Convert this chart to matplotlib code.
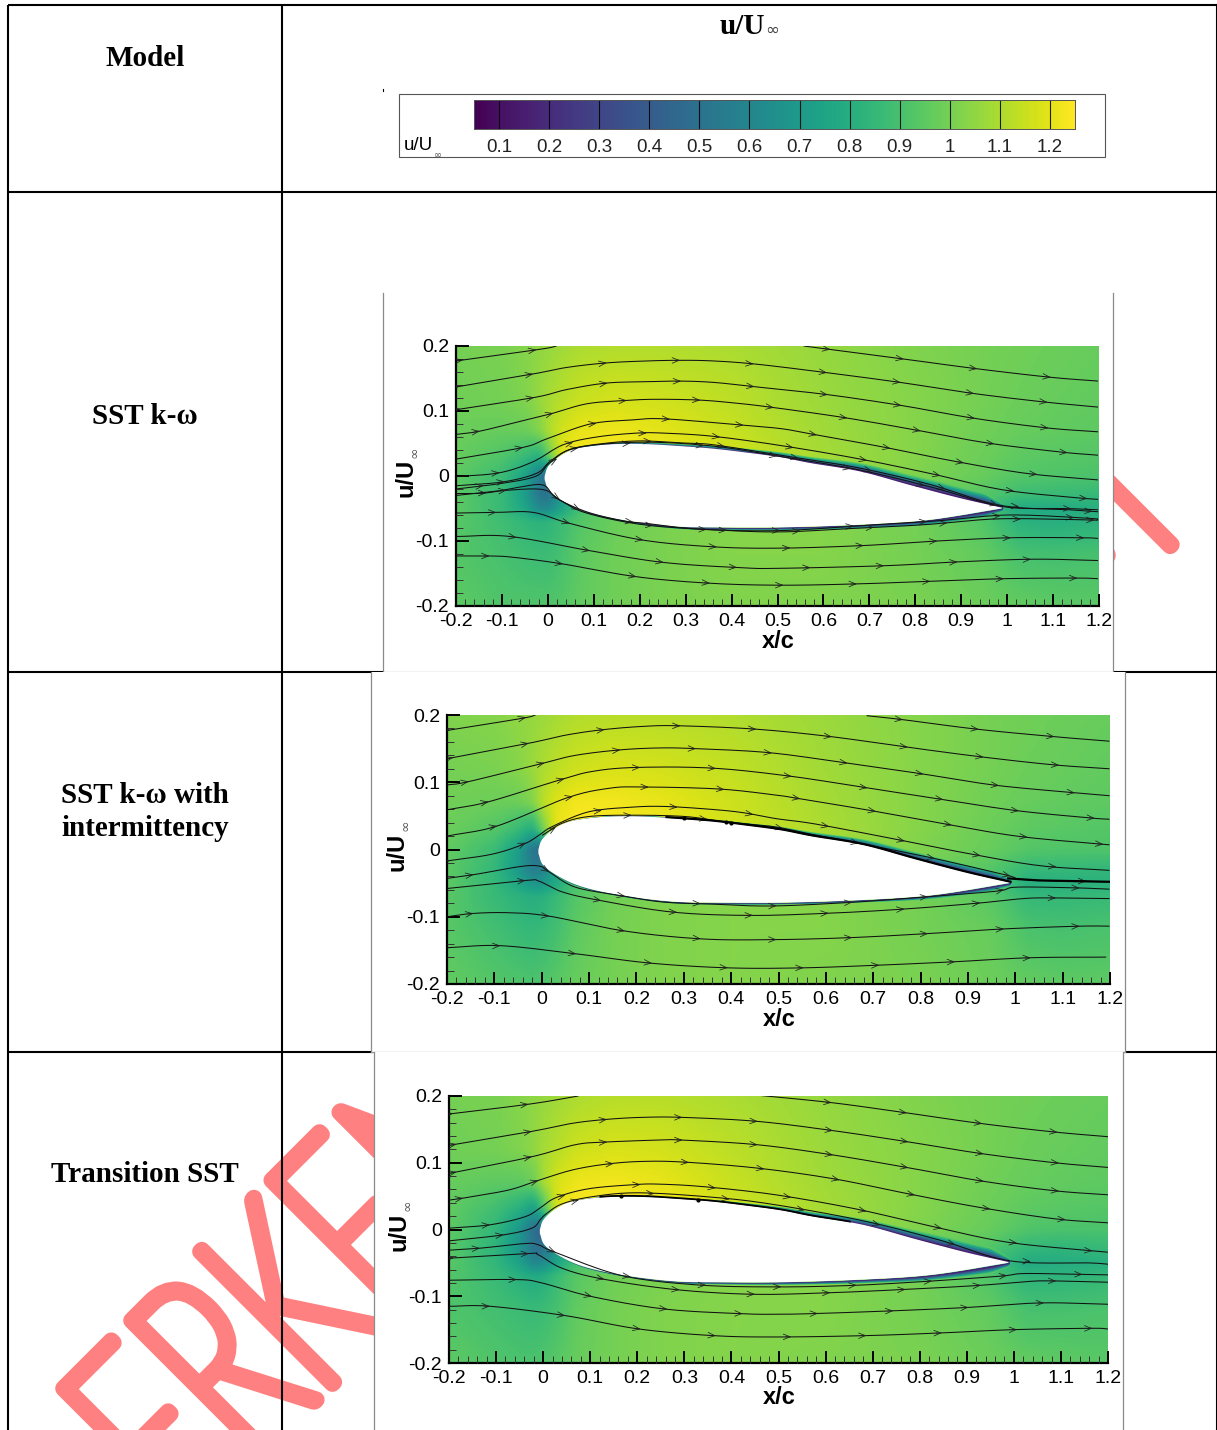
#!/usr/bin/env python

# u/U_inf fields around the airfoil for three turbulence models, in a table

import numpy as np
import matplotlib
matplotlib.use('Agg')
import matplotlib.pyplot as plt
from matplotlib.patches import Rectangle
from matplotlib.patheffects import AbstractPathEffect
from matplotlib.transforms import Affine2D
from matplotlib.ticker import MultipleLocator

W, H = 1217, 1430
PINK = '#FF8080'
SANS = 'Liberation Sans'
SERIF = 'Liberation Serif'

# colour scale
u_min, u_max = 0.05, 1.25
cbar_ticks = [0.1, 0.2, 0.3, 0.4, 0.5, 0.6, 0.7, 0.8, 0.9, 1.0, 1.1, 1.2]
cbar_labels = ['0.1', '0.2', '0.3', '0.4', '0.5', '0.6', '0.7', '0.8', '0.9', '1', '1.1', '1.2']

x_ticks = [-0.2, -0.1, 0, 0.1, 0.2, 0.3, 0.4, 0.5, 0.6, 0.7, 0.8, 0.9, 1.0, 1.1, 1.2]
x_labels = ['-0.2', '-0.1', '0', '0.1', '0.2', '0.3', '0.4', '0.5', '0.6', '0.7', '0.8', '0.9', '1', '1.1', '1.2']
y_ticks = [-0.2, -0.1, 0, 0.1, 0.2]
y_labels = ['-0.2', '-0.1', '0', '0.1', '0.2']

# airfoil surface
upper_x = [-0.007, 0.0, 0.019, 0.048, 0.084, 0.143, 0.215, 0.288, 0.361, 0.433, 0.506, 0.571, 0.68, 0.789, 0.897, 0.99]
upper_y = [0.0, 0.014, 0.027, 0.039, 0.045, 0.049, 0.049, 0.046, 0.042, 0.036, 0.029, 0.02, 0.007, -0.014, -0.034, -0.049]
lower_x = [-0.007, 0.004, 0.041, 0.084, 0.143, 0.215, 0.288, 0.361, 0.506, 0.68, 0.825, 0.97, 0.99]
lower_y = [-0.006, -0.024, -0.042, -0.055, -0.065, -0.073, -0.078, -0.079, -0.079, -0.075, -0.068, -0.052, -0.049]

# field nodes
grid_x = [-0.2, -0.1, -0.05, -0.02, 0, 0.03, 0.07, 0.15, 0.25, 0.4, 0.6, 0.8, 0.95, 1.03, 1.1, 1.2]
grid_y = [0.2, 0.12, 0.07, 0.03, 0, -0.03, -0.05, -0.07, -0.12, -0.2]

field_sst = [
    [1.00, 1.01, 1.03, 1.05, 1.06, 1.08, 1.10, 1.11, 1.11, 1.10, 1.06, 1.02, 1.00, 0.99, 0.98, 0.97],
    [0.99, 1.00, 1.02, 1.06, 1.09, 1.12, 1.15, 1.17, 1.16, 1.13, 1.07, 1.03, 1.00, 0.98, 0.97, 0.96],
    [0.98, 0.97, 0.98, 1.02, 1.10, 1.17, 1.21, 1.22, 1.20, 1.15, 1.08, 1.03, 0.99, 0.97, 0.96, 0.95],
    [0.97, 0.92, 0.86, 0.80, 0.95, 1.21, 1.24, 1.24, 1.22, 1.17, 1.09, 1.03, 0.98, 0.95, 0.94, 0.93],
    [0.95, 0.87, 0.74, 0.55, 0.45, 0.90, 1.00, 1.10, 1.10, 1.10, 1.08, 1.02, 0.97, 0.93, 0.92, 0.91],
    [0.95, 0.86, 0.72, 0.52, 0.50, 0.70, 0.90, 1.00, 1.05, 1.05, 1.05, 1.00, 0.93, 0.87, 0.86, 0.85],
    [0.95, 0.86, 0.76, 0.62, 0.62, 0.75, 0.90, 0.98, 1.03, 1.03, 1.04, 1.00, 0.90, 0.78, 0.78, 0.80],
    [0.94, 0.88, 0.84, 0.82, 0.83, 0.87, 0.93, 0.98, 1.01, 1.03, 1.03, 1.00, 0.93, 0.82, 0.80, 0.82],
    [0.93, 0.90, 0.88, 0.87, 0.87, 0.90, 0.95, 0.99, 1.01, 1.03, 1.03, 1.00, 0.96, 0.90, 0.89, 0.90],
    [0.95, 0.92, 0.92, 0.92, 0.92, 0.93, 0.96, 0.99, 1.01, 1.02, 1.02, 1.01, 0.98, 0.96, 0.95, 0.94],
]
field_int = [
    [1.02, 1.03, 1.05, 1.06, 1.07, 1.09, 1.11, 1.12, 1.12, 1.11, 1.07, 1.03, 1.00, 0.99, 0.98, 0.97],
    [1.00, 1.01, 1.03, 1.07, 1.10, 1.13, 1.16, 1.18, 1.17, 1.14, 1.08, 1.03, 1.00, 0.98, 0.97, 0.96],
    [0.99, 0.98, 0.98, 1.02, 1.12, 1.19, 1.23, 1.23, 1.21, 1.16, 1.09, 1.03, 0.99, 0.97, 0.96, 0.95],
    [0.98, 0.93, 0.86, 0.78, 0.98, 1.22, 1.24, 1.24, 1.22, 1.17, 1.10, 1.03, 0.98, 0.95, 0.94, 0.93],
    [0.96, 0.87, 0.72, 0.52, 0.45, 0.90, 1.00, 1.10, 1.10, 1.10, 1.08, 1.02, 0.97, 0.93, 0.92, 0.92],
    [0.95, 0.85, 0.70, 0.55, 0.58, 0.75, 0.90, 1.00, 1.05, 1.05, 1.05, 1.00, 0.93, 0.85, 0.85, 0.84],
    [0.95, 0.85, 0.76, 0.67, 0.68, 0.78, 0.90, 0.98, 1.03, 1.03, 1.04, 1.00, 0.92, 0.80, 0.81, 0.82],
    [0.94, 0.86, 0.82, 0.80, 0.81, 0.86, 0.93, 0.99, 1.02, 1.03, 1.03, 1.00, 0.94, 0.85, 0.85, 0.86],
    [0.94, 0.89, 0.86, 0.85, 0.86, 0.89, 0.95, 1.00, 1.02, 1.03, 1.03, 1.00, 0.97, 0.91, 0.90, 0.91],
    [0.96, 0.93, 0.92, 0.91, 0.92, 0.94, 0.97, 1.00, 1.02, 1.03, 1.02, 1.01, 0.98, 0.96, 0.95, 0.95],
]
field_trans = [
    [1.00, 1.01, 1.03, 1.05, 1.06, 1.08, 1.10, 1.12, 1.12, 1.10, 1.06, 1.02, 1.00, 0.99, 0.98, 0.97],
    [0.99, 1.00, 1.02, 1.05, 1.09, 1.12, 1.16, 1.18, 1.17, 1.13, 1.07, 1.03, 1.00, 0.98, 0.97, 0.96],
    [0.97, 0.95, 0.95, 0.98, 1.09, 1.18, 1.22, 1.23, 1.21, 1.15, 1.08, 1.03, 0.99, 0.97, 0.96, 0.95],
    [0.96, 0.88, 0.80, 0.70, 0.90, 1.20, 1.24, 1.24, 1.22, 1.17, 1.09, 1.03, 0.98, 0.95, 0.94, 0.93],
    [0.95, 0.84, 0.68, 0.48, 0.42, 0.90, 1.00, 1.10, 1.10, 1.10, 1.08, 1.02, 0.97, 0.92, 0.91, 0.91],
    [0.94, 0.83, 0.68, 0.50, 0.50, 0.70, 0.90, 1.00, 1.05, 1.05, 1.05, 1.00, 0.92, 0.84, 0.83, 0.85],
    [0.94, 0.84, 0.74, 0.60, 0.62, 0.76, 0.90, 0.98, 1.03, 1.03, 1.04, 1.00, 0.90, 0.78, 0.79, 0.81],
    [0.93, 0.86, 0.81, 0.78, 0.80, 0.87, 0.94, 0.99, 1.01, 1.03, 1.03, 1.00, 0.92, 0.83, 0.83, 0.85],
    [0.92, 0.89, 0.87, 0.86, 0.87, 0.90, 0.96, 1.00, 1.02, 1.03, 1.03, 1.00, 0.96, 0.90, 0.90, 0.91],
    [0.95, 0.92, 0.91, 0.91, 0.92, 0.94, 0.97, 1.00, 1.02, 1.03, 1.02, 1.01, 0.98, 0.96, 0.95, 0.94],
]

# boundary layer thickness on the surface
bl_x = [0.0, 0.1, 0.3, 0.5, 0.7, 0.85, 0.95, 0.99]
bl_up_sst = [0.0, 0.002, 0.004, 0.008, 0.014, 0.018, 0.018, 0.007]
bl_lo_sst = [0.0, 0.002, 0.003, 0.004, 0.005, 0.007, 0.009, 0.004]
bl_up_int = [0.0, 0.001, 0.002, 0.005, 0.009, 0.012, 0.013, 0.006]
bl_lo_int = [0.0, 0.001, 0.002, 0.002, 0.003, 0.005, 0.007, 0.004]
bl_up_trans = [0.0, 0.001, 0.002, 0.005, 0.01, 0.016, 0.017, 0.007]
bl_lo_trans = [0.0, 0.001, 0.002, 0.003, 0.005, 0.008, 0.011, 0.005]

# streamlines: (x, y) points and x of the first arrow
lines_sst = [
    ([-0.2, -0.017, 0.019], [0.177, 0.195, 0.2], -0.185),
    ([0.557, 0.774, 0.934, 1.093, 1.198], [0.2, 0.18, 0.165, 0.152, 0.146], 0.615),
    ([-0.2, -0.032, 0.041, 0.128, 0.215, 0.288, 0.361, 0.455, 0.607, 0.767, 0.926, 1.079, 1.198],
     [0.137, 0.157, 0.167, 0.174, 0.177, 0.178, 0.177, 0.172, 0.159, 0.144, 0.127, 0.114, 0.106], -0.192),
    ([-0.2, -0.028, 0.041, 0.128, 0.215, 0.288, 0.361, 0.455, 0.611, 0.774, 0.926, 1.086, 1.198],
     [0.102, 0.121, 0.133, 0.143, 0.145, 0.146, 0.144, 0.137, 0.125, 0.108, 0.089, 0.074, 0.068], -0.19),
    ([-0.2, -0.148, -0.061, 0.008, 0.084, 0.164, 0.23, 0.324, 0.397, 0.484, 0.644, 0.799, 0.955, 1.115, 1.198],
     [0.064, 0.069, 0.084, 0.096, 0.111, 0.116, 0.118, 0.117, 0.113, 0.106, 0.09, 0.071, 0.051, 0.037, 0.032], -0.148),
    ([-0.2, -0.054, -0.003, 0.092, 0.179, 0.252, 0.412, 0.506, 0.571, 0.727, 0.883, 1.042, 1.198],
     [0.026, 0.044, 0.057, 0.08, 0.086, 0.088, 0.079, 0.073, 0.065, 0.045, 0.023, 0.004, -0.006], -0.054),
    ([-0.2, -0.105, -0.032, 0.033, 0.106, 0.193, 0.252, 0.361, 0.506, 0.673, 0.832, 0.988, 1.144, 1.198],
     [-0.001, 0.005, 0.022, 0.048, 0.06, 0.066, 0.066, 0.061, 0.047, 0.027, 0.004, -0.021, -0.033, -0.036], -0.105),
    ([-0.2, -0.097, -0.025, 0.004, 0.048, 0.121, 0.201, 0.288, 0.361, 0.506, 0.673, 0.832, 0.984, 1.137, 1.198],
     [-0.015, -0.009, 0.004, 0.022, 0.041, 0.05, 0.054, 0.051, 0.048, 0.032, 0.013, -0.013, -0.045, -0.052, -0.055], -0.094),
    ([-0.2, -0.097, -0.025, 0.004, 0.06, 0.2, 0.36, 0.506, 0.68, 0.84, 0.99, 1.13, 1.198],
     [-0.02, -0.011, 0.0, 0.02, 0.043, 0.052, 0.046, 0.03, 0.009, -0.018, -0.047, -0.05, -0.052], -0.14),
    ([-0.2, -0.134, -0.061, -0.01, 0.019, 0.084, 0.164, 0.215, 0.332, 0.506, 0.687, 0.847, 1.003, 1.177, 1.198],
     [-0.027, -0.026, -0.017, -0.014, -0.034, -0.055, -0.069, -0.073, -0.082, -0.084, -0.076, -0.069, -0.06, -0.065, -0.067], -0.134),
    ([-0.2, -0.09, -0.01, 0.026, 0.084, 0.208, 0.368, 0.506, 0.654, 0.818, 0.977, 1.137, 1.198],
     [-0.03, -0.022, -0.021, -0.037, -0.057, -0.075, -0.083, -0.086, -0.081, -0.075, -0.066, -0.067, -0.068], -0.09),
    ([-0.2, -0.112, -0.032, 0.048, 0.201, 0.361, 0.506, 0.687, 0.847, 1.006, 1.162, 1.198],
     [-0.057, -0.056, -0.056, -0.073, -0.098, -0.109, -0.111, -0.107, -0.1, -0.095, -0.095, -0.096], -0.112),
    ([-0.2, -0.083, 0.092, 0.252, 0.419, 0.506, 0.734, 0.897, 1.057, 1.198],
     [-0.093, -0.093, -0.115, -0.133, -0.141, -0.142, -0.138, -0.132, -0.128, -0.13], -0.068),
    ([-0.2, -0.127, -0.076, 0.03, 0.193, 0.353, 0.506, 0.673, 0.832, 0.992, 1.151, 1.198],
     [-0.123, -0.123, -0.125, -0.135, -0.155, -0.165, -0.168, -0.166, -0.162, -0.158, -0.157, -0.158], -0.127),
]
lines_int = [
    ([-0.2, -0.042, -0.013], [0.177, 0.195, 0.2], -0.193),
    ([0.686, 0.763, 0.918, 1.079, 1.199], [0.199, 0.193, 0.179, 0.168, 0.161], 0.763),
    ([-0.2, -0.027, 0.05, 0.127, 0.212, 0.289, 0.451, 0.609, 0.763, 0.925, 1.079, 1.199],
     [0.135, 0.158, 0.17, 0.178, 0.183, 0.184, 0.179, 0.168, 0.153, 0.138, 0.126, 0.12], -0.187),
    ([-0.2, -0.154, 0.001, 0.071, 0.163, 0.247, 0.325, 0.48, 0.64, 0.798, 0.953, 1.114, 1.199],
     [0.096, 0.101, 0.128, 0.14, 0.148, 0.151, 0.15, 0.144, 0.129, 0.113, 0.096, 0.085, 0.08], -0.154),
    ([-0.2, -0.112, 0.036, 0.106, 0.198, 0.36, 0.525, 0.683, 0.841, 1.0, 1.157, 1.199],
     [0.059, 0.071, 0.103, 0.116, 0.122, 0.121, 0.109, 0.092, 0.075, 0.058, 0.047, 0.045], -0.112),
    ([-0.2, -0.094, 0.054, 0.142, 0.212, 0.374, 0.494, 0.532, 0.686, 0.844, 1.002, 1.164, 1.199],
     [0.02, 0.035, 0.077, 0.091, 0.093, 0.09, 0.081, 0.077, 0.059, 0.039, 0.02, 0.009, 0.007], -0.094),
    ([-0.2, -0.105, -0.038, -0.006, 0.022, 0.099, 0.191, 0.261, 0.353, 0.423, 0.494, 0.577, 0.735, 0.893, 1.051, 1.199],
     [-0.017, -0.007, 0.008, 0.021, 0.034, 0.056, 0.063, 0.064, 0.06, 0.055, 0.046, 0.038, 0.017, -0.005, -0.024, -0.031], -0.193),
    ([0.001, 0.043, 0.099, 0.191, 0.304, 0.388, 0.489, 0.574, 0.665, 0.827, 0.981, 1.023, 1.199],
     [0.021, 0.039, 0.049, 0.051, 0.049, 0.041, 0.034, 0.022, 0.01, -0.013, -0.038, -0.045, -0.048], 0.03),
    ([-0.2, -0.14, -0.042, -0.003, 0.015, 0.071, 0.163, 0.254, 0.353, 0.482, 0.644, 0.802, 0.96, 1.002, 1.125, 1.199],
     [-0.043, -0.037, -0.025, -0.025, -0.033, -0.056, -0.068, -0.078, -0.081, -0.084, -0.079, -0.071, -0.062, -0.056, -0.057, -0.059], -0.144),
    ([-0.2, -0.034, -0.006, 0.043, 0.117, 0.275, 0.437, 0.598, 0.756, 0.918, 1.016, 1.076, 1.199],
     [-0.058, -0.046, -0.047, -0.063, -0.075, -0.093, -0.098, -0.095, -0.089, -0.08, -0.073, -0.072, -0.073], -0.034),
    ([-0.2, -0.144, -0.07, 0.015, 0.173, 0.339, 0.493, 0.654, 0.816, 0.978, 1.136, 1.199],
     [-0.1, -0.095, -0.094, -0.099, -0.121, -0.133, -0.134, -0.131, -0.125, -0.118, -0.114, -0.114], -0.144),
    ([-0.2, -0.087, 0.071, 0.23, 0.395, 0.549, 0.711, 0.869, 1.03, 1.192],
     [-0.146, -0.143, -0.155, -0.169, -0.176, -0.176, -0.172, -0.167, -0.161, -0.16], -0.087),
]
lines_trans = [
    ([-0.2, -0.028, 0.075], [0.173, 0.188, 0.2], -0.191),
    ([0.444, 0.613, 0.769, 0.928, 1.087, 1.2], [0.202, 0.19, 0.175, 0.159, 0.146, 0.139], 0.613),
    ([-0.2, -0.024, 0.061, 0.135, 0.21, 0.295, 0.455, 0.617, 0.769, 0.928, 1.087, 1.2],
     [0.126, 0.147, 0.159, 0.165, 0.168, 0.168, 0.162, 0.148, 0.132, 0.114, 0.1, 0.093], -0.184),
    ([-0.2, -0.024, 0.068, 0.132, 0.245, 0.295, 0.455, 0.613, 0.772, 0.928, 1.087, 1.2],
     [0.084, 0.109, 0.127, 0.131, 0.134, 0.134, 0.127, 0.112, 0.093, 0.073, 0.058, 0.052], -0.184),
    ([-0.2, -0.17, -0.074, -0.017, 0.061, 0.135, 0.21, 0.299, 0.455, 0.617, 0.772, 0.928, 1.087, 1.2],
     [0.044, 0.047, 0.059, 0.072, 0.089, 0.098, 0.102, 0.101, 0.092, 0.076, 0.054, 0.033, 0.016, 0.01], -0.17),
    ([-0.2, -0.113, -0.039, -0.007, 0.028, 0.096, 0.189, 0.245, 0.344, 0.494, 0.663, 0.818, 0.977, 1.133, 1.2],
     [0.002, 0.007, 0.019, 0.032, 0.048, 0.061, 0.067, 0.068, 0.064, 0.052, 0.031, 0.006, -0.018, -0.03, -0.034], -0.113),
    ([-0.2, -0.084, -0.024, -0.007, 0.004, 0.039, 0.103, 0.203, 0.366, 0.494, 0.68, 0.843, 0.992, 1.158, 1.2],
     [-0.017, -0.008, 0.002, 0.014, 0.022, 0.038, 0.049, 0.055, 0.048, 0.037, 0.013, -0.016, -0.047, -0.05, -0.052], -0.084),
    ([-0.2, -0.134, -0.038, -0.01, 0.025, 0.167, 0.327, 0.487, 0.649, 0.808, 0.97, 1.02, 1.129, 1.2],
     [-0.031, -0.028, -0.021, -0.023, -0.034, -0.069, -0.083, -0.086, -0.084, -0.078, -0.07, -0.066, -0.067, -0.068], -0.134),
    ([-0.2, -0.031, -0.01, 0.04, 0.125, 0.281, 0.444, 0.599, 0.762, 0.921, 1.027, 1.08, 1.2],
     [-0.043, -0.036, -0.038, -0.058, -0.074, -0.09, -0.097, -0.095, -0.09, -0.084, -0.078, -0.077, -0.079], -0.19),
    ([-0.2, -0.056, -0.003, 0.1, 0.256, 0.416, 0.494, 0.574, 0.737, 0.896, 1.055, 1.2],
     [-0.076, -0.075, -0.08, -0.1, -0.119, -0.126, -0.127, -0.126, -0.122, -0.117, -0.11, -0.112], -0.056),
    ([-0.2, -0.113, 0.047, 0.203, 0.362, 0.494, 0.684, 0.843, 1.002, 1.165, 1.2],
     [-0.115, -0.115, -0.129, -0.149, -0.159, -0.161, -0.159, -0.155, -0.15, -0.148, -0.149], -0.113),
]

# thick black traces: stretch of upper surface, wake and blobs
trace_int = (0.26, 0.99)
wake_int_x = [0.985, 1.05, 1.199]
wake_int_y = [-0.043, -0.046, -0.048]
blobs_int = [0.3, 0.39, 0.4]
trace_trans = (0.12, 0.66)
wake_trans_x = []
wake_trans_y = []
blobs_trans = [0.165, 0.33]

row_labels = ['Model', 'SST k-ω', 'SST k-ω with\nintermittency', 'Transition SST']

ARROW_STEP = 0.16


class Squash(AbstractPathEffect):
    # narrows the glyphs of a text along its baseline, the watermark is very condensed
    def __init__(self, sx, lw):
        self.sx = sx
        self.lw = lw

    def draw_path(self, renderer, gc, tpath, affine, rgbFace=None):
        gc0 = renderer.new_gc()
        gc0.copy_properties(gc)
        gc0.set_linewidth(self.lw)
        gc0.set_foreground(rgbFace)
        gc0.set_joinstyle('round')
        renderer.draw_path(gc0, tpath, Affine2D().scale(self.sx, 1) + affine, rgbFace)
        gc0.restore()


def px_axes(fig, x0, y0, x1, y1):
    return fig.add_axes([x0 / W, 1 - y1 / H, (x1 - x0) / W, (y1 - y0) / H])


def smooth_curve(xs, ys, n=12):
    # catmull-rom through the read points, only so the drawn curve has no corners
    p = np.column_stack([xs, ys])
    if len(p) < 3:
        return p[:, 0], p[:, 1]
    p = np.vstack([2 * p[0] - p[1], p, 2 * p[-1] - p[-2]])
    out = []
    for i in range(1, len(p) - 2):
        for t in np.linspace(0, 1, n, endpoint=False):
            out.append(0.5 * (2 * p[i] + (p[i + 1] - p[i - 1]) * t
                              + (2 * p[i - 1] - 5 * p[i] + 4 * p[i + 1] - p[i + 2]) * t ** 2
                              + (3 * p[i] - p[i - 1] - 3 * p[i + 1] + p[i + 2]) * t ** 3))
    out.append(p[-2])
    out = np.array(out)
    return out[:, 0], out[:, 1]


def fine_field(field):
    # resample the read nodes on a fine regular grid and soften the node columns
    fx = np.linspace(-0.2, 1.2, 561)
    fy = np.linspace(0.2, -0.2, 321)
    z = np.array(field, dtype=float)
    gy = np.array(grid_y)
    rows = np.array([np.interp(fx, grid_x, r) for r in z])
    fine = np.array([np.interp(-fy, -gy, rows[:, j]) for j in range(rows.shape[1])]).T
    kx = np.hanning(17)
    ky = np.hanning(13)
    kx, ky = kx / kx.sum(), ky / ky.sum()
    fine = np.pad(fine, ((8, 8), (10, 10)), mode='edge')
    fine = np.apply_along_axis(lambda v: np.convolve(v, kx, mode='same'), 1, fine)
    fine = np.apply_along_axis(lambda v: np.convolve(v, ky, mode='same'), 0, fine)
    return fine[8:-8, 10:-10]


def draw_panel(fig, box, field, bl_up, bl_lo, lines, trace=None, wake=None, blobs=(), trace_lw=1.6):
    ax = px_axes(fig, *box)
    cmap = plt.get_cmap('viridis')
    norm = plt.Normalize(u_min, u_max)
    ax.imshow(fine_field(field), extent=[-0.2, 1.2, -0.2, 0.2], aspect='auto', cmap=cmap, norm=norm,
              interpolation='bilinear', zorder=0)

    ux, uy = smooth_curve(upper_x, upper_y)
    lx, ly = smooth_curve(lower_x, lower_y)

    # boundary layer, outer band first
    tu = np.interp(ux, bl_x, bl_up)
    tl = np.interp(lx, bl_x, bl_lo)
    bands = [(1.0, 0.95), (0.88, 0.85), (0.75, 0.72), (0.6, 0.58), (0.45, 0.42), (0.3, 0.28), (0.16, 0.14)]
    for frac, val in bands:
        ax.fill_between(ux, uy, uy + tu * frac, color=cmap(norm(val)), lw=0, zorder=1)
        ax.fill_between(lx, ly, ly - tl * frac, color=cmap(norm(val)), lw=0, zorder=1)

    ax.fill(np.r_[ux, lx[::-1]], np.r_[uy, ly[::-1]], color='white', lw=0, zorder=2)

    for xs, ys, first in lines:
        sx, sy = smooth_curve(xs, ys)
        ax.plot(sx, sy, color='#111111', lw=0.75, zorder=3, solid_capstyle='butt')
        ax0 = first
        while ax0 < xs[-1] - 0.005:
            if ax0 > xs[0]:
                an = ax.annotate('', xy=(ax0, np.interp(ax0, xs, ys)),
                                 xytext=(ax0 - 0.012, np.interp(ax0 - 0.012, xs, ys)),
                                 arrowprops=dict(arrowstyle='->,head_length=0.5,head_width=0.2',
                                                 lw=0.55, color='#222222', shrinkA=0, shrinkB=0,
                                                 mutation_scale=10),
                                 zorder=3)
                an.arrow_patch.set_clip_path(ax.patch)
            ax0 = ax0 + ARROW_STEP

    if trace is not None:
        keep = (ux >= trace[0]) & (ux <= trace[1])
        ax.plot(ux[keep], uy[keep] + 0.001, color='black', lw=trace_lw, zorder=3)
    if wake is not None and len(wake[0]) > 0:
        ax.plot(wake[0], wake[1], color='black', lw=trace_lw, zorder=3)
    if len(blobs) > 0:
        ax.plot(blobs, np.interp(blobs, ux, uy) + 0.001, 'o', color='black', ms=3, mew=0, zorder=3)

    ax.set_xlim(-0.2, 1.2)
    ax.set_ylim(-0.2, 0.2)
    ax.patch.set_alpha(0)
    ax.set_axisbelow(False)
    ax.spines['top'].set_visible(False)
    ax.spines['right'].set_visible(False)
    ax.spines['left'].set_linewidth(1.6)
    ax.spines['bottom'].set_linewidth(1.6)
    ax.set_xticks(x_ticks, x_labels, fontsize=14, fontfamily=SANS)
    ax.set_yticks(y_ticks, y_labels, fontsize=14, fontfamily=SANS)
    ax.xaxis.set_minor_locator(MultipleLocator(0.02))
    ax.yaxis.set_minor_locator(MultipleLocator(0.02))
    ax.tick_params(which='major', direction='in', length=9, width=1.4, pad=5, color='black')
    ax.tick_params(which='minor', direction='in', length=5, width=0.7, color='#333333')
    for t in ax.get_yticklabels():
        t.set_verticalalignment('center_baseline')
    return ax


def axis_titles(over, box):
    x0, y0, x1, y1 = box
    over.text((x0 + x1) / 2 + 1, y1 + 35, 'x/c', ha='center', va='center', fontsize=17,
              fontweight='bold', fontfamily=SANS, zorder=6)
    cy = (y0 + y1) / 2
    over.text(x0 - 50, cy + 2, 'u/U', rotation=90, ha='center', va='center', fontsize=17,
              fontweight='bold', fontfamily=SANS, zorder=6)
    over.text(x0 - 42, cy - 24, '∞', rotation=90, ha='center', va='center', fontsize=10,
              color='#555555', fontfamily='DejaVu Sans', zorder=6)


fig = plt.figure(figsize=(W / 100, H / 100), dpi=100, facecolor='white')

# page layer in pixel coordinates
over = fig.add_axes([0, 0, 1, 1])
over.set_xlim(0, W)
over.set_ylim(H, 0)
over.axis('off')

# watermark goes under the table lines and the pasted images
over.text(182, 1534, 'ERKEN GÖRÜNÜM', rotation=45, rotation_mode='anchor', ha='left', va='baseline',
          fontsize=192, color=PINK, fontfamily='Lato', fontweight='light', zorder=1,
          path_effects=[Squash(0.619, 12)])

# table lines
for x in [8, 282]:
    over.plot([x, x], [5, H], color='black', lw=1.5, zorder=2, solid_capstyle='butt')
over.plot([W - 0.5, W - 0.5], [5, H], color='black', lw=1.5, zorder=2)
for y in [5, 192, 672, 1052]:
    over.plot([8, W], [y, y], color='black', lw=1.5, zorder=2, solid_capstyle='butt')

# pasted images with thin grey side borders
for x0, y0, x1, y1 in [(383, 293, 1113, 672), (371, 672, 1125, 1052), (374, 1052, 1123, H)]:
    over.add_patch(Rectangle((x0, y0), x1 - x0, y1 - y0, fc='white', ec='none', zorder=3))
    over.plot([x0, x0], [y0, y1], color='#8a8a8a', lw=0.9, zorder=3)
    over.plot([x1, x1], [y0, y1], color='#8a8a8a', lw=0.9, zorder=3)
    if y1 < H:
        over.plot([x0, x1], [y1, y1], color='#9a9a9a', lw=0.9, zorder=3)

# row labels
over.text(145, 59, row_labels[0], ha='center', va='center', fontsize=21, fontweight='bold', fontfamily=SERIF, zorder=6)
over.text(145, 416, row_labels[1], ha='center', va='center', fontsize=21, fontweight='bold', fontfamily=SERIF, zorder=6)
over.text(145, 812, row_labels[2], ha='center', va='center', fontsize=21, fontweight='bold', fontfamily=SERIF,
          linespacing=1.3, zorder=6)
over.text(145, 1174, row_labels[3], ha='center', va='center', fontsize=21, fontweight='bold', fontfamily=SERIF, zorder=6)

# column heading
over.text(720, 26, 'u/U', ha='left', va='center', fontsize=21, fontweight='bold', fontfamily=SERIF, zorder=6)
over.text(765, 30, '∞', ha='left', va='center', fontsize=12, color='#444444', fontfamily='DejaVu Sans', zorder=6)

# legend box
over.add_patch(Rectangle((399, 94), 706, 63, fc='white', ec='#555555', lw=0.8, zorder=3))
over.plot([383, 383], [89, 91], color='black', lw=0.8, zorder=3)
over.text(404, 146, 'u/U', ha='left', va='center', fontsize=13.5, fontfamily=SANS, zorder=6)
over.text(434, 155, '∞', ha='left', va='center', fontsize=7, color='#555555', fontfamily='DejaVu Sans', zorder=6)

cax = px_axes(fig, 474, 100, 1075, 129)
cax.imshow(np.linspace(u_min, u_max, 400)[None, :], extent=[u_min, u_max, 0, 1], aspect='auto',
           cmap='viridis', vmin=u_min, vmax=u_max)
for v in cbar_ticks:
    cax.axvline(v, color='black', lw=0.8, alpha=0.85)
cax.set_xticks(cbar_ticks, cbar_labels, fontsize=13.5, fontfamily=SANS, color='#222222')
cax.set_yticks([])
cax.tick_params(length=0, pad=7.5)
for s in cax.spines.values():
    s.set_linewidth(0.7)
    s.set_color('#555555')

box_sst = (456, 346, 1099, 606)
box_int = (447, 715, 1110, 984)
box_trans = (449, 1096, 1108, 1363)

draw_panel(fig, box_sst, field_sst, bl_up_sst, bl_lo_sst, lines_sst)
draw_panel(fig, box_int, field_int, bl_up_int, bl_lo_int, lines_int, trace_int, (wake_int_x, wake_int_y), blobs_int, 1.6)
draw_panel(fig, box_trans, field_trans, bl_up_trans, bl_lo_trans, lines_trans, trace_trans, (wake_trans_x, wake_trans_y), blobs_trans, 1.3)

for b in [box_sst, box_int, box_trans]:
    axis_titles(over, b)

fig.savefig('out.png', dpi=100)
